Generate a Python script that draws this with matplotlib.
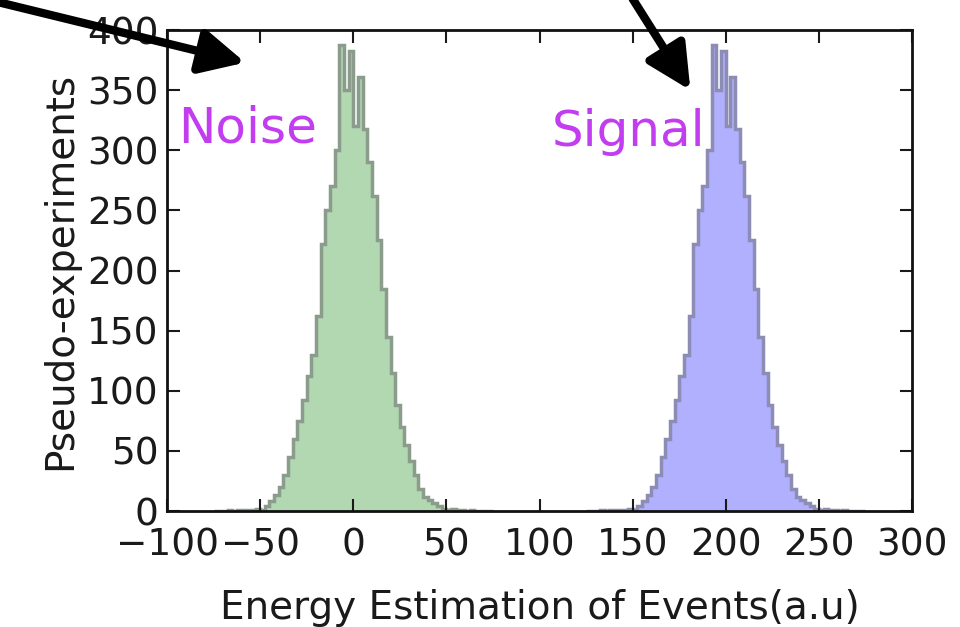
import matplotlib
matplotlib.use("Agg")
import matplotlib.pyplot as plt
import numpy as np

# bin edges (a.u.) and counts; bins are 2.5 wide
noise_edges = np.arange(-75, 75.01, 2.5)
noise_counts = [0, 0, 0, 1, 0, 1, 1, 1, 1, 2,
                1, 4, 8, 13, 20, 30, 45, 60, 75, 92,
                112, 130, 162, 222, 250, 270, 300, 388, 350, 383,
                320, 361, 318, 290, 262, 225, 185, 145, 115, 88,
                70, 55, 42, 30, 18, 12, 9, 7, 4, 2,
                1, 2, 1, 1, 0, 1, 0, 0, 0, 0]

signal_edges = np.arange(125, 275.01, 2.5)
signal_counts = [0, 0, 0, 1, 0, 1, 1, 1, 1, 2,
                 1, 4, 8, 13, 20, 30, 45, 60, 75, 92,
                 112, 130, 162, 222, 250, 270, 300, 388, 350, 383,
                 320, 361, 318, 290, 262, 225, 185, 145, 115, 88,
                 70, 55, 42, 30, 18, 12, 9, 7, 4, 2,
                 1, 2, 1, 1, 0, 1, 0, 0, 0, 0]

x_ticks = [-100, -50, 0, 50, 100, 150, 200, 250, 300]
y_ticks = [0, 50, 100, 150, 200, 250, 300, 350, 400]

fig = plt.figure(figsize=(9.6, 6.27), dpi=100)
ax = fig.add_axes([0.174, 0.185, 0.776, 0.767])

ax.stairs(noise_counts, noise_edges, fill=True, color="#b1d8b1")
ax.stairs(noise_counts, noise_edges, color="#8c9c8c", lw=2.5)
ax.stairs(signal_counts, signal_edges, fill=True, color="#b0b0ff")
ax.stairs(signal_counts, signal_edges, color="#8c8cb4", lw=2.5)

ax.set_xlim(-100, 300)
ax.set_ylim(0, 400)
ax.set_xticks(x_ticks)
ax.set_yticks(y_ticks)
ax.tick_params(direction="in", length=9, width=1.5, top=True, right=True,
               labelsize=27, colors="#1a1a1a")
ax.tick_params(axis="x", pad=12)
ax.tick_params(axis="y", pad=6)
for s in ax.spines.values():
    s.set_linewidth(2)
    s.set_color("#111111")

ax.set_xlabel("Energy Estimation of Events(a.u)", fontsize=28, color="#1a1a1a", labelpad=18)
ax.set_ylabel("Pseudo-experiments", fontsize=28, color="#1a1a1a", labelpad=6)

purple = "#c23cf0"
ax.text(-94, 318, "Noise", fontsize=36, color=purple, ha="left", va="center")
ax.text(189, 315, "Signal", fontsize=36, color=purple, ha="right", va="center")

arrow = dict(arrowstyle="-|>,head_length=0.9,head_width=0.45", lw=6, color="black",
             mutation_scale=30, shrinkA=0, shrinkB=0)
ax.annotate("", xy=(-58, 373), xytext=(-190, 423), arrowprops=arrow,
            annotation_clip=False)
ax.annotate("", xy=(181, 350), xytext=(150, 426), arrowprops=arrow,
            annotation_clip=False)

fig.savefig("out.png", dpi=100)
